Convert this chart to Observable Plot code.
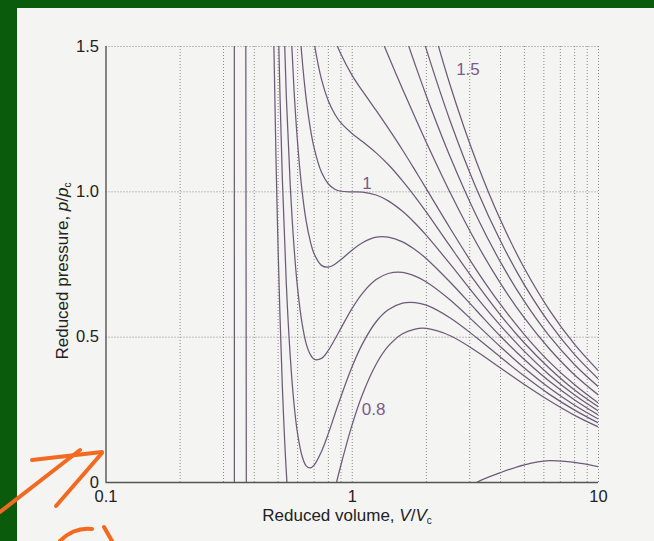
<!DOCTYPE html>
<html>
<head>
<meta charset="utf-8">
<script src="https://cdn.jsdelivr.net/npm/d3@7"></script>
<script src="https://cdn.jsdelivr.net/npm/@observablehq/plot@0.6"></script>
<style>
  html, body { margin:0; padding:0; width:654px; height:541px; overflow:hidden; background:#0a5c0c; }
  #page { position:absolute; left:17px; top:8px; width:637px; height:533px; background:#f4f4f2; }
  #chart { position:absolute; left:0; top:0; width:654px; height:541px; }
  #ink { position:absolute; left:0; top:0; }
</style>
</head>
<body>
<div id="page"></div>
<div id="chart"></div>
<svg id="ink" width="654" height="541" fill="none" stroke="#f26a21" stroke-width="4" stroke-linecap="round">
  <path d="M0 512 L80 450"/>
  <path d="M56 506 L102 453"/>
  <path d="M32 460 L102 452"/>
  <path d="M60 541 Q74 527 92 529"/>
  <path d="M104 527 L112 541"/>
</svg>
<script>
// Reduced volume sample points (V/Vc)
const volumes = [0.45,0.46,0.47,0.48,0.49,0.5,0.52,0.54,0.56,0.58,0.6,0.625,0.65,0.675,0.7,0.75,0.8,0.85,0.9,1.0,1.1,1.25,1.4,1.6,1.8,2.0,2.5,3.2,4,5,6.3,8,10];
// Isotherm temperatures (T/Tc)
const temperatures = [0.8,0.85,0.9,0.95,1,1.05,1.1,1.2,1.3,1.4,1.5];
// Reduced pressure p/pc on each isotherm (null = above the frame, not drawn)
const p080 = [3.471,2.664,2.029,1.525,1.122,0.8,0.334,0.034,-0.154,-0.269,-0.333,-0.366,-0.364,-0.34,-0.304,-0.213,-0.116,-0.023,0.061,0.2,0.303,0.407,0.469,0.512,0.528,0.53,0.505,0.451,0.394,0.337,0.282,0.231,0.191];
const p085 = [null,3.717,3.004,2.434,1.973,1.6,1.048,0.68,0.434,0.271,0.167,0.092,0.057,0.05,0.06,0.107,0.169,0.235,0.296,0.4,0.477,0.553,0.594,0.617,0.619,0.61,0.566,0.498,0.431,0.366,0.304,0.249,0.2045];
const p090 = [null,null,3.98,3.343,2.824,2.4,1.762,1.325,1.023,0.812,0.667,0.549,0.478,0.441,0.424,0.427,0.455,0.493,0.531,0.6,0.651,0.698,0.719,0.723,0.71,0.69,0.628,0.544,0.467,0.394,0.326,0.266,0.218];
const p095 = [null,null,null,null,3.675,3.2,2.477,1.97,1.611,1.352,1.167,1.006,0.899,0.831,0.787,0.747,0.741,0.751,0.767,0.8,0.825,0.844,0.844,0.828,0.801,0.77,0.689,0.591,0.503,0.423,0.349,0.284,0.232];
const p100 = [null,null,null,null,null,null,3.191,2.615,2.199,1.893,1.667,1.463,1.32,1.221,1.151,1.067,1.027,1.009,1.002,1.0,0.999,0.989,0.969,0.933,0.892,0.85,0.751,0.637,0.54,0.451,0.371,0.301,0.246];
const p105 = [null,null,null,null,null,null,null,3.26,2.787,2.434,2.167,1.92,1.741,1.611,1.514,1.387,1.3125,1.267,1.237,1.2,1.173,1.134,1.094,1.038,0.983,0.93,0.812,0.684,0.576,0.48,0.394,0.318,0.26];
const p110 = [null,null,null,null,null,null,null,null,null,2.974,2.667,2.377,2.162,2.002,1.878,1.707,1.598,1.525,1.473,1.4,1.347,1.28,1.219,1.144,1.074,1.01,0.874,0.73,0.6125,0.509,0.416,0.336,0.273];
const p120 = [null,null,null,null,null,null,null,null,null,null,null,null,null,null,null,2.347,2.17,2.041,1.943,1.8,1.695,1.571,1.469,1.354,1.256,1.17,0.997,0.823,0.685,0.566,0.461,0.37,0.301];
const p130 = [null,null,null,null,null,null,null,null,null,null,null,null,null,null,null,null,null,null,null,2.2,2.043,1.862,1.719,1.565,1.438,1.33,1.12,0.916,0.758,0.623,0.505,0.405,0.329];
const p140 = [null,null,null,null,null,null,null,null,null,null,null,null,null,null,null,null,null,null,null,null,2.391,2.153,1.969,1.775,1.619,1.49,1.243,1.009,0.831,0.68,0.55,0.44,0.356];
const p150 = [null,null,null,null,null,null,null,null,null,null,null,null,null,null,null,null,null,null,null,null,null,2.444,2.219,1.986,1.801,1.65,1.366,1.102,0.903,0.737,0.595,0.475,0.384];
const pressures = [p080,p085,p090,p095,p100,p105,p110,p120,p130,p140,p150];

// Low-temperature isotherms: only the pieces that lie inside the frame
const coldV = [0.3320, 0.3322];
const coldP = [1.6, -0.1];
const lowLeftV = [0.3695, 0.3715];
const lowLeftP = [1.6, -0.1];
const lowRightV = [3.0, 3.2, 4, 5, 6.3, 8, 10];
const lowRightP = [-0.02, 0, 0.034, 0.061, 0.075, 0.069, 0.054];

// Curve labels
const labelText = ["1.5", "1", "0.8"];
const labelV = [2.95, 1.148, 1.22];
const labelP = [1.422, 1.03, 0.251];

// Axes
const xTicks = [0.1, 1, 10];
const yTicks = [0, 0.5, 1.0, 1.5];
const xGrid = [0.2,0.3,0.4,0.5,0.6,0.7,0.8,0.9,1,2,3,4,5,6,7,8,9,10];
const yGrid = [0.5, 1.0, 1.5];

const rows = [];
temperatures.forEach((T, k) => {
  volumes.forEach((v, i) => {
    const p = pressures[k][i];
    if (p !== null) rows.push({ id: "T" + T, v, p });
  });
});
coldV.forEach((v, i) => rows.push({ id: "cold", v, p: coldP[i] }));
lowLeftV.forEach((v, i) => rows.push({ id: "lowL", v, p: lowLeftP[i] }));
lowRightV.forEach((v, i) => rows.push({ id: "lowR", v, p: lowRightP[i] }));

const labels = labelText.map((t, i) => ({ t, v: labelV[i], p: labelP[i] }));

const lineColor = "#6d5a78";
const chart = Plot.plot({
  width: 654,
  height: 541,
  marginLeft: 105.5,
  marginRight: 56,
  marginTop: 46,
  marginBottom: 59,
  style: { background: "transparent", fontFamily: "'Liberation Sans', Arial, Helvetica, sans-serif", fontSize: "16.5px", color: "#222", overflow: "visible" },
  x: { type: "log", domain: [0.1, 10] },
  y: { domain: [0, 1.5] },
  marks: [
    Plot.gridX(xGrid, { stroke: "#8a8a8a", strokeOpacity: 1, strokeWidth: 1, strokeDasharray: "1,2" }),
    Plot.gridY(yGrid, { stroke: "#8a8a8a", strokeOpacity: 1, strokeWidth: 1, strokeDasharray: "1,2" }),
    Plot.line(rows, { x: "v", y: "p", z: "id", stroke: lineColor, strokeWidth: 1.25, curve: "catmull-rom", clip: true }),
    Plot.ruleX([0.1], { stroke: "#555", strokeWidth: 1.4 }),
    Plot.ruleY([0], { stroke: "#555", strokeWidth: 1.4 }),
    Plot.text(labels, { x: "v", y: "p", text: "t", fill: "#7b5b8c", fontSize: 17 }),
    Plot.axisX(xTicks, { tickSize: 0, tickPadding: 8, tickFormat: d => String(d), label: null, fill: "#222" }),
    Plot.axisY(yTicks, { tickSize: 0, tickPadding: 7, tickFormat: d => d === 0 ? "0" : d.toFixed(1), label: null, fill: "#222" })
  ]
});
document.getElementById("chart").appendChild(chart);

const svg = d3.select(chart);
const xt = svg.append("text").attr("x", 347).attr("y", 521).attr("text-anchor", "middle").attr("font-size", 17).attr("fill", "#222");
xt.append("tspan").text("Reduced volume, ");
xt.append("tspan").attr("font-style", "italic").text("V");
xt.append("tspan").text("/");
xt.append("tspan").attr("font-style", "italic").text("V");
xt.append("tspan").attr("font-size", 10).attr("dy", 3).text("c");

const yt = svg.append("text").attr("transform", "translate(68,271) rotate(-90)").attr("text-anchor", "middle").attr("font-size", 17).attr("fill", "#222");
yt.append("tspan").text("Reduced pressure, ");
yt.append("tspan").attr("font-style", "italic").text("p");
yt.append("tspan").text("/");
yt.append("tspan").attr("font-style", "italic").text("p");
yt.append("tspan").attr("font-size", 10).attr("dy", 3).text("c");
</script>
</body>
</html>
